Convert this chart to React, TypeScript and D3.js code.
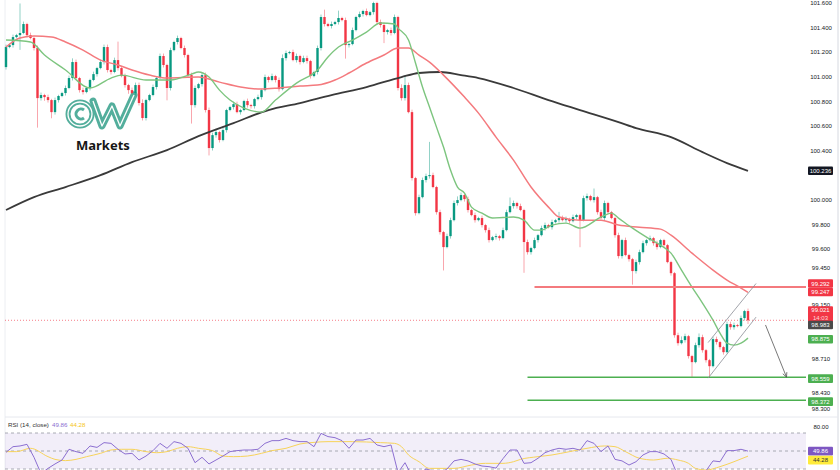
import React from 'react';
import * as d3 from 'd3';

// closing prices, one per bar (open = previous close)
const firstOpen = 101.079;
const closes = [
  101.242, 101.258, 101.323, 101.339, 101.356, 101.429, 101.339, 101.315, 101.234, 100.827,
  100.852, 100.835, 100.811, 100.713, 100.811, 100.844, 100.868, 100.909, 100.99, 101.12,
  100.99, 100.892, 100.876, 100.909, 100.974, 101.022, 101.071, 101.12, 101.242, 101.055,
  101.039, 101.136, 101.071, 101.006, 100.933, 100.892, 100.868, 100.933, 100.787, 100.665,
  100.811, 100.852, 100.917, 100.99, 101.169, 101.096, 100.909, 101.217, 101.283, 101.315,
  101.234, 101.177, 101.014, 100.77, 100.909, 100.941, 101.014, 100.73, 100.421, 100.526,
  100.551, 100.486, 100.567, 100.73, 100.754, 100.778, 100.713, 100.73, 100.803, 100.77,
  100.762, 100.819, 100.835, 100.892, 100.998, 100.974, 101.006, 100.974, 100.9, 101.152,
  101.193, 101.201, 101.136, 101.169, 101.12, 101.152, 101.128, 101.006, 101.039, 101.234,
  101.486, 101.429, 101.413, 101.429, 101.445, 101.478, 101.461, 101.258, 101.266, 101.38,
  101.486, 101.51, 101.535, 101.502, 101.526, 101.6, 101.445, 101.421, 101.364, 101.38,
  101.356, 101.486, 100.909, 100.827, 100.933, 100.713, 100.177, 99.892, 100.022, 100.161,
  100.193, 100.201, 100.104, 99.9, 99.738, 99.616, 99.705, 99.835, 99.974, 99.998,
  100.039, 100.006, 99.917, 99.876, 99.835, 99.852, 99.795, 99.754, 99.673, 99.697,
  99.705, 99.689, 99.754, 99.9, 99.949, 99.974, 99.949, 99.917, 99.657, 99.575,
  99.608, 99.673, 99.713, 99.77, 99.795, 99.778, 99.819, 99.835, 99.852, 99.835,
  99.844, 99.827, 99.86, 99.876, 99.835, 100.014, 100.031, 99.998, 100.022, 99.9,
  99.852, 99.974, 99.9, 99.852, 99.713, 99.543, 99.673, 99.551, 99.518, 99.421,
  99.494, 99.575, 99.648, 99.673, 99.689, 99.648, 99.616, 99.673, 99.632, 99.494,
  99.404, 98.9, 98.835, 98.86, 98.892, 98.73, 98.681, 98.819, 98.884, 98.778,
  98.697, 98.648, 98.868, 98.844, 98.803, 98.762, 98.99, 98.965, 98.982, 98.974,
  99.039, 99.096, 99.021,
];

// wick lengths above / below the body, in hundredths
const upperWick = [
  2, 1, 2, 1, 24, 2, 1, 2, 1, 2,
  2, 1, 2, 1, 2, 1, 1, 2, 2, 3,
  2, 1, 2, 1, 1, 2, 1, 2, 2, 2,
  1, 2, 15, 1, 2, 1, 2, 2, 2, 3,
  1, 1, 2, 1, 2, 2, 1, 2, 1, 2,
  1, 2, 1, 2, 2, 1, 2, 2, 2, 2,
  2, 1, 2, 1, 1, 2, 2, 1, 1, 2,
  1, 1, 2, 1, 2, 1, 2, 1, 2, 3,
  2, 1, 2, 2, 1, 2, 2, 1, 1, 2,
  2, 6, 1, 2, 1, 6, 1, 2, 1, 2,
  1, 2, 1, 2, 1, 1, 1, 2, 2, 1,
  2, 2, 1, 3, 8, 2, 2, 1, 2, 2,
  2, 27, 2, 1, 2, 1, 2, 2, 2, 3,
  2, 1, 2, 1, 2, 1, 2, 1, 2, 1,
  2, 1, 2, 2, 7, 2, 1, 2, 1, 2,
  1, 2, 1, 2, 2, 1, 2, 1, 5, 2,
  2, 1, 2, 1, 1, 2, 2, 1, 7, 1,
  2, 2, 1, 1, 1, 2, 1, 2, 1, 1,
  2, 2, 2, 1, 2, 1, 2, 1, 1, 1,
  1, 1, 2, 3, 2, 1, 1, 2, 3, 2,
  1, 1, 2, 2, 1, 1, 2, 2, 2, 1,
  2, 1, 2,
];
const lowerWick = [
  2, 1, 2, 1, 12, 1, 2, 1, 2, 24,
  2, 3, 2, 5, 2, 2, 1, 2, 1, 2,
  1, 2, 2, 1, 2, 1, 2, 1, 2, 2,
  2, 1, 2, 1, 2, 3, 1, 2, 2, 2,
  2, 1, 1, 2, 1, 2, 10, 2, 1, 2,
  1, 2, 2, 15, 2, 1, 2, 2, 6, 2,
  2, 2, 1, 2, 1, 2, 1, 2, 1, 2,
  2, 2, 1, 2, 1, 2, 1, 2, 2, 1,
  2, 1, 1, 2, 2, 1, 2, 2, 1, 2,
  2, 2, 1, 2, 1, 2, 1, 11, 2, 1,
  1, 1, 2, 1, 1, 2, 2, 2, 9, 2,
  2, 1, 2, 2, 2, 1, 2, 2, 1, 1,
  2, 2, 1, 2, 2, 19, 1, 2, 1, 2,
  1, 2, 2, 1, 2, 1, 2, 2, 2, 1,
  2, 2, 1, 1, 1, 2, 2, 1, 25, 2,
  2, 1, 2, 1, 2, 1, 2, 1, 2, 1,
  2, 2, 1, 2, 22, 1, 2, 1, 2, 2,
  1, 2, 2, 1, 2, 2, 2, 1, 2, 11,
  2, 2, 1, 2, 1, 2, 2, 1, 2, 1,
  2, 2, 2, 1, 2, 2, 12, 1, 2, 2,
  2, 9, 1, 2, 2, 2, 1, 2, 2, 1,
  1, 2, 3,
];

// moving averages as [bar, value]
const maFast = [
  [0, 101.299], [7, 101.283], [11, 101.177], [17, 101.055], [24, 100.909], [30, 100.99],
  [33, 101.014], [40, 100.974], [47, 100.974], [53, 101.022], [55, 101.039], [58, 100.998],
  [61, 100.892], [64, 100.811], [68, 100.746], [73, 100.713], [77, 100.811], [83, 100.949],
  [89, 101.055], [92, 101.161], [95, 101.242], [99, 101.299], [103, 101.364], [107, 101.437],
  [111, 101.429], [112, 101.396], [115, 101.299], [117, 101.112], [119, 100.917], [121, 100.754],
  [123, 100.591], [125, 100.429], [127, 100.242], [129, 100.104], [131, 100.055], [133, 99.941],
  [136, 99.892], [139, 99.852], [145, 99.86], [148, 99.835], [151, 99.754], [153, 99.754],
  [156, 99.795], [160, 99.811], [164, 99.77], [170, 99.86], [173, 99.892], [175, 99.852],
  [179, 99.77], [183, 99.697], [187, 99.632], [190, 99.567], [193, 99.429], [196, 99.291],
  [199, 99.161], [202, 99.022], [204, 98.917], [206, 98.835], [208, 98.819], [210, 98.835],
  [212, 98.876],
];
const maMid = [
  [0, 101.242], [4, 101.315], [8, 101.331], [13, 101.323], [17, 101.283], [22, 101.217],
  [27, 101.136], [32, 101.096], [36, 101.055], [41, 101.014], [46, 100.99], [55, 100.998],
  [61, 100.957], [67, 100.917], [73, 100.9], [78, 100.909], [84, 100.925], [89, 100.933],
  [94, 100.974], [98, 101.031], [103, 101.112], [108, 101.177], [112, 101.234], [115, 101.234],
  [118, 101.177], [121, 101.12], [125, 101.014], [131, 100.835], [135, 100.705], [140, 100.51],
  [145, 100.323], [150, 100.104], [155, 99.941], [158, 99.86], [164, 99.835], [170, 99.835],
  [175, 99.795], [181, 99.778], [187, 99.762], [190, 99.713], [196, 99.567], [202, 99.429],
  [206, 99.348], [210, 99.283], [212, 99.247],
];
const maSlow = [
  [0, 99.917], [8, 100.022], [17, 100.104], [27, 100.201], [36, 100.307], [46, 100.404],
  [55, 100.518], [65, 100.624], [75, 100.73], [84, 100.787], [93, 100.852], [103, 100.917],
  [113, 100.998], [118, 101.031], [124, 101.039], [130, 101.014], [135, 100.99], [145, 100.909],
  [155, 100.811], [164, 100.73], [175, 100.632], [180, 100.583], [190, 100.51], [199, 100.388],
  [206, 100.299], [212, 100.236],
];

// RSI(14), one value every 2 bars
const rsi = [
  48.5, 54.8, 55.6, 57.4, 43, 25, 30.7, 35.6, 40, 51.9,
  49.3, 47.4, 55.6, 54, 59.3, 58.5, 51.9, 46.7, 47.4, 40,
  44.4, 50.4, 58.5, 53, 60.4, 58.5, 53, 37, 43, 35.6,
  40, 44.4, 49.3, 50.4, 51.1, 51.1, 51.9, 58.5, 61.5, 61.5,
  64, 61.5, 60.4, 60.4, 54.8, 69.6, 66, 64.8, 61.5, 53,
  62.2, 62.2, 64, 56.7, 54.8, 56.7, 26, 37, 22, 25,
  30, 28, 25, 30, 39, 40.7, 39, 35.6, 33.3, 32.6,
  31, 41.5, 51.1, 51.1, 36.3, 37, 41.9, 48.1, 51.1, 53,
  51.9, 53, 51, 61.5, 58.5, 49.3, 55.6, 40.7, 39, 34.4,
  38.1, 45.6, 49.3, 49.3, 46.7, 40.7, 22, 25, 22, 27,
  28, 39, 38.1, 50.4, 50.4, 51.9, 49.86,
];
const rsiMa = [
  [0, 49.3], [3, 49.3], [7, 53], [12, 43.7], [14, 40.7], [17, 39.3], [20, 40.7], [23, 43.7],
  [27, 47.4], [30, 51.1], [33, 51.9], [36, 51.9], [40, 49.3], [43, 48.1], [46, 49.3], [49, 53],
  [52, 54.8], [55, 53], [59, 50.4], [62, 44.4], [65, 43.7], [69, 44.4], [73, 47.4], [76, 50.4],
  [80, 53], [84, 57.8], [88, 59.6], [92, 60.4], [99, 60.4], [107, 59.3], [111, 58.5], [113, 54.8],
  [115, 45.6], [118, 38.1], [121, 30.7], [128, 30.7], [133, 34.4], [137, 36.3], [142, 36.3],
  [145, 38.1], [147, 40.7], [152, 43.7], [156, 45.6], [161, 49.3], [166, 53], [171, 55.6],
  [174, 54.8], [177, 49.3], [181, 41.9], [185, 40], [189, 41.9], [192, 40], [195, 36.3],
  [197, 30.7], [200, 28.9], [204, 32.6], [208, 38.1], [212, 44.28],
];

const axisTicks = [101.6, 101.4, 101.2, 101.0, 100.8, 100.6, 100.4, 100.0, 99.8, 99.6, 99.45, 99.15, 98.71, 98.43, 98.3];
const resistance = 99.292;
const supports = [98.559, 98.372];
const lastPrice = 99.021;
const targetFrom = 98.983;
// channel drawn on the last leg: [bar, price]
const channelLow = [[200.6, 98.551], [214.3, 99.047]];
const channelHigh = [[200.6, 98.84], [214.3, 99.32]];
const arrowPts = [[217, 98.983], [223, 98.559]];

const UP = '#089981';
const DOWN = '#f23645';

export default function App() {
  const n = closes.length;
  const x = d3.scaleLinear().domain([0, n - 1]).range([6, 748]);
  const y = d3.scaleLinear().domain([98.3, 101.6]).range([409, 3]);
  const yR = d3.scaleLinear().domain([30, 70]).range([469, 433]);
  const plotRight = 806;
  const fmt = d3.format('.3f');

  const candles = closes.map((c, i) => {
    const o = i === 0 ? firstOpen : closes[i - 1];
    return {
      i, o, c,
      h: Math.max(o, c) + upperWick[i] / 100,
      l: Math.min(o, c) - lowerWick[i] / 100,
    };
  });

  const ma = d3.line<number[]>().x((d) => x(d[0])).y((d) => y(d[1])).curve(d3.curveMonotoneX);
  const rsiLine = d3.line<number>().x((_, k) => x(k * 2)).y((d) => yR(d));
  const rsiMaLine = d3.line<number[]>().x((d) => x(d[0])).y((d) => yR(d[1])).curve(d3.curveMonotoneX);
  const seg = (p: number[][]) => ({ x1: x(p[0][0]), y1: y(p[0][1]), x2: x(p[1][0]), y2: y(p[1][1]) });

  const tagX = 808;
  const tagW = 25;
  const tag = (cy: number, bg: string, text: string, fg = '#fff') => (
    <g key={text + cy}>
      <rect x={tagX} y={cy - 4.3} width={tagW} height={8.6} rx={1} fill={bg} />
      <text x={tagX + tagW / 2} y={cy + 2.1} textAnchor="middle" fontSize={6} fill={fg}>{text}</text>
    </g>
  );

  const ar = arrowPts.map((p) => [x(p[0]), y(p[1])]);
  const ang = Math.atan2(ar[1][1] - ar[0][1], ar[1][0] - ar[0][0]);
  const head = (s: number) => [ar[1][0] - 5 * Math.cos(ang + s), ar[1][1] - 5 * Math.sin(ang + s)];

  return (
    <svg width={840} height={470} style={{ position: 'fixed', left: 0, top: 0, background: '#fff' }}
      fontFamily="'Liberation Sans', Arial, sans-serif">
      <rect width={840} height={470} fill="#fff" />

      {/* borders */}
      <line x1={5} x2={5} y1={0} y2={470} stroke="#eceef2" />
      <line x1={838} x2={838} y1={0} y2={470} stroke="#d6d9e0" />
      <line x1={5} x2={838} y1={417} y2={417} stroke="#e6e8ee" />

      {/* logo */}
      <g opacity={0.92}>
        <circle cx={80} cy={114} r={12} fill="none" stroke="#45a894" strokeWidth={5} />
        <circle cx={80} cy={114} r={12} fill="none" stroke="#fff" strokeWidth={1.3} />
        <path d="M 84 110 A 5 5 0 1 0 84 118" fill="none" stroke="#45a894" strokeWidth={3} />
        <path d="M 93 101 L 102 126 L 112 106 L 120 126 L 134 95" fill="none" stroke="#45a894"
          strokeWidth={7} strokeLinejoin="round" strokeLinecap="round" />
        <path d="M 93 101 L 102 126 L 112 106 L 120 126 L 134 95" fill="none" stroke="#fff"
          strokeWidth={1.3} strokeLinejoin="round" />
      </g>
      <text x={76} y={150} fontSize={13} fontWeight={700} fontFamily="'Noto Sans', sans-serif" fill="#161616">Markets</text>

      {/* candles */}
      {candles.map((d) => {
        const col = d.c >= d.o ? UP : DOWN;
        const top = y(Math.max(d.o, d.c));
        const h = Math.max(1, Math.abs(y(d.o) - y(d.c)));
        return (
          <g key={d.i}>
            <line x1={x(d.i)} x2={x(d.i)} y1={y(d.h)} y2={y(d.l)} stroke={col} strokeWidth={0.8} opacity={0.55} />
            <rect x={x(d.i) - 1.2} y={top} width={2.4} height={h} fill={col} />
          </g>
        );
      })}

      {/* moving averages */}
      <path d={ma(maSlow) || ''} fill="none" stroke="#3a3a3a" strokeWidth={1.8} />
      <path d={ma(maMid) || ''} fill="none" stroke="#f47a7e" strokeWidth={1.5} />
      <path d={ma(maFast) || ''} fill="none" stroke="#7dc57f" strokeWidth={1.4} />

      {/* levels */}
      <line x1={x(151)} x2={plotRight} y1={y(resistance)} y2={y(resistance)} stroke="#f47a7e" strokeWidth={2} />
      {supports.map((s) => (
        <line key={s} x1={x(149)} x2={plotRight} y1={y(s)} y2={y(s)} stroke="#4caf50" strokeWidth={1.5} />
      ))}
      <line x1={5} x2={plotRight} y1={y(lastPrice)} y2={y(lastPrice)} stroke="#f23645" strokeWidth={0.8}
        strokeDasharray="1 2" opacity={0.8} />

      {/* channel and arrow */}
      <line {...seg(channelLow)} stroke="#8a8d96" strokeWidth={0.8} />
      <line {...seg(channelHigh)} stroke="#8a8d96" strokeWidth={0.8} />
      <line x1={ar[0][0]} y1={ar[0][1]} x2={ar[1][0]} y2={ar[1][1]} stroke="#555" strokeWidth={0.8} />
      <polyline points={`${head(0.45).join(',')} ${ar[1].join(',')} ${head(-0.45).join(',')}`} fill="none"
        stroke="#555" strokeWidth={0.8} />

      {/* price axis */}
      {axisTicks.map((t) => (
        <text key={t} x={821} y={y(t) + 2.1} textAnchor="middle" fontSize={6} fill="#131722">{fmt(t)}</text>
      ))}
      {tag(y(100.236), '#131722', '100.236')}
      {tag(y(resistance) - 3.5, '#f23645', fmt(resistance))}
      {tag(y(99.247) - 0.5, '#f23645', '99.247')}
      <rect x={tagX} y={y(lastPrice) - 14} width={tagW} height={16} rx={1} fill="#f23645" />
      <text x={tagX + tagW / 2} y={y(lastPrice) - 8} textAnchor="middle" fontSize={6} fill="#fff">{fmt(lastPrice)}</text>
      <text x={tagX + tagW / 2} y={y(lastPrice) - 0.5} textAnchor="middle" fontSize={6} fill="#ffd6d9">14:03</text>
      {tag(y(targetFrom), '#4a4a4a', fmt(targetFrom))}
      {tag(y(98.875) + 1, '#4caf50', '98.875')}
      {supports.map((s) => tag(y(s) + 1.5, '#4caf50', fmt(s)))}

      {/* RSI pane */}
      <rect x={5} y={yR(70)} width={plotRight - 5} height={yR(30) - yR(70)} fill="#7e57c2" opacity={0.1} />
      {[70, 50, 30].map((v) => (
        <line key={v} x1={5} x2={plotRight} y1={yR(v)} y2={yR(v)} stroke="#9598a1" strokeWidth={0.8} strokeDasharray="3 3" />
      ))}
      <path d={rsiMaLine(rsiMa) || ''} fill="none" stroke="#f7d35a" strokeWidth={1} />
      <path d={rsiLine(rsi) || ''} fill="none" stroke="#8c6fd1" strokeWidth={1} />
      <text x={8} y={427} fontSize={6.2} fill="#333">RSI (14, close)</text>
      <text x={52} y={427} fontSize={6.2} fill="#8c6fd1">49.86</text>
      <text x={70} y={427} fontSize={6.2} fill="#f5c518">44.28</text>
      <text x={821} y={yR(80) + 5} textAnchor="middle" fontSize={6} fill="#131722">80.00</text>
      {tag(yR(49.86), '#7e57c2', '49.86')}
      {tag(yR(44.28) + 4, '#ffeb3b', '44.28', '#333')}
    </svg>
  );
}
